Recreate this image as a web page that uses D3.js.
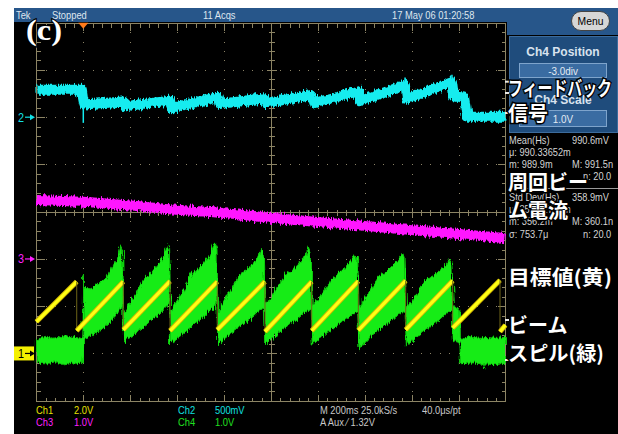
<!DOCTYPE html>
<html>
<head>
<meta charset="utf-8">
<script src="https://cdnjs.cloudflare.com/ajax/libs/d3/7.8.5/d3.min.js"></script>
<style>
  html, body { margin: 0; padding: 0; background: #fff; }
  svg { display: block; }
</style>
</head>
<body>
<svg id="scope" width="618" height="434"></svg>
<script>
// 横軸は div (200ms/div, 0..10), 縦軸は画面上の div (-4..4)

// Ch2 フィードバック信号 (シアン)
const ch2T = [0, 0.97, 0.995, 1.02, 1.85, 1.88, 2.85, 2.88, 3.87, 3.90, 4.87, 4.90, 5.87, 5.90, 6.86, 6.89, 7.86, 7.90, 8.86, 8.90, 9.12, 9.18, 10]
const ch2V = [2.58, 2.58, 2.40, 2.27, 2.33, 2.23, 2.35, 2.19, 2.43, 2.28, 2.40, 2.30, 2.47, 2.29, 2.55, 2.34, 2.68, 2.39, 2.74, 2.44, 2.42, 2.01, 2.01]
// 細いスパイク [t, from, to]
const ch2Spikes = [[1.0, 2.45, 1.88], [7.86, 2.66, 2.84], [8.86, 2.72, 2.90]]

// Ch3 周回ビーム電流 (マゼンタ)
const ch3T = [0, 1, 2, 3, 4, 5, 6, 7, 8, 9, 10]
const ch3V = [0.25, 0.21, 0.13, 0.04, -0.03, -0.13, -0.22, -0.30, -0.39, -0.47, -0.56]

// Ch1 目標値 (黄)
const ch1T = [0, 0.86, 0.86, 1.853, 1.853, 2.849, 2.849, 3.857, 3.857, 4.874, 4.874, 5.870, 5.870, 6.864, 6.864, 7.874, 7.874, 8.876, 8.876, 9.885, 9.885, 10]
const ch1V = [-2.33, -1.48, -2.52, -1.48, -2.50, -1.47, -2.52, -1.48, -2.50, -1.48, -2.54, -1.48, -2.52, -1.47, -2.51, -1.46, -2.50, -1.46, -2.46, -1.45, -2.54, -2.40]

// Ch4 ビームスピル (緑) 帯の上端・下端
const ch4T = [0, 0.2, 0.4, 0.6, 0.8, 0.99,
  1.01, 1.04, 1.20, 1.35, 1.50, 1.65, 1.75, 1.80, 1.84,
  1.86, 2.00, 2.15, 2.30, 2.45, 2.60, 2.72, 2.79, 2.84,
  2.86, 3.00, 3.15, 3.30, 3.45, 3.60, 3.72, 3.80, 3.85,
  3.87, 4.00, 4.15, 4.30, 4.45, 4.60, 4.72, 4.80, 4.86,
  4.89, 5.00, 5.15, 5.30, 5.45, 5.60, 5.72, 5.80, 5.86,
  5.88, 6.00, 6.15, 6.30, 6.45, 6.60, 6.72, 6.80, 6.85,
  6.88, 7.00, 7.15, 7.30, 7.45, 7.60, 7.72, 7.81, 7.86,
  7.89, 8.00, 8.15, 8.30, 8.45, 8.60, 8.72, 8.80, 8.86,
  8.89, 9.00, 9.03,
  9.04, 9.30, 9.50, 9.53, 9.56, 9.80, 10]
const ch4Hi = [-2.70, -2.66, -2.68, -2.62, -2.66, -2.68,
  -1.34, -1.60, -1.62, -1.50, -1.40, -1.10, -0.95, -0.72, -0.82,
  -2.19, -1.92, -1.70, -1.40, -1.30, -1.10, -0.95, -0.68, -0.80,
  -2.14, -1.88, -1.62, -1.30, -1.22, -1.05, -0.88, -0.66, -0.78,
  -2.12, -1.90, -1.66, -1.38, -1.25, -1.12, -0.98, -0.78, -0.95,
  -1.93, -1.85, -1.60, -1.35, -1.25, -1.10, -0.95, -0.75, -0.90,
  -1.98, -1.86, -1.64, -1.42, -1.32, -1.16, -1.02, -0.92, -0.98,
  -2.02, -1.84, -1.60, -1.38, -1.28, -1.14, -1.00, -0.86, -0.98,
  -2.04, -1.90, -1.68, -1.45, -1.36, -1.24, -1.15, -1.00, -1.12,
  -1.98, -2.05, -2.10,
  -2.68, -2.64, -2.66, -2.66, -2.66, -2.68, -2.66]
const ch4Lo = [-3.20, -3.22, -3.18, -3.24, -3.20, -3.22,
  -2.72, -2.66, -2.60, -2.52, -2.40, -2.25, -2.12, -2.04, -1.98,
  -2.76, -2.66, -2.55, -2.42, -2.30, -2.18, -2.05, -1.98, -1.91,
  -2.78, -2.68, -2.56, -2.44, -2.32, -2.20, -2.06, -1.98, -1.92,
  -2.82, -2.70, -2.58, -2.46, -2.34, -2.24, -2.14, -2.10, -2.06,
  -2.80, -2.70, -2.58, -2.45, -2.35, -2.24, -2.14, -2.10, -2.06,
  -2.82, -2.72, -2.60, -2.48, -2.38, -2.28, -2.18, -2.14, -2.10,
  -2.93, -2.78, -2.62, -2.50, -2.38, -2.28, -2.18, -2.14, -2.10,
  -2.86, -2.76, -2.62, -2.50, -2.40, -2.28, -2.16, -2.10, -2.04,
  -2.72, -2.76, -2.75,
  -3.22, -3.20, -3.22, -3.35, -3.22, -3.24, -3.20]

// 画面の文字
const headerTexts = [["Tek", 16], ["Stopped", 52], ["11 Acqs", 203], ["17 May 06 01:20:58", 392]]
const statsRows = [
  ["Mean(Hs)", "990.6mV", 144],
  ["μ: 990.33652m", "", 156],
  ["m: 989.9m", "M: 991.5n", 168],
  ["", "n: 20.0", 180],
  ["Std Dev(Hs)", "358.9mV", 201],
  ["μ: 358.52706m", "", 213],
  ["m: 356.2m", "M: 360.1n", 225],
  ["σ: 753.7μ", "n: 20.0", 238]
]
const bottomRow1 = [["Ch1", 36, "#e8e000"], ["2.0V", 74, "#e8e000"], ["Ch2", 178, "#10e0e0"], ["500mV", 215, "#10e0e0"], ["M 200ms 25.0kS/s", 320, "#c8c8c8"], ["40.0μs/pt", 422, "#c8c8c8"]]
const bottomRow2 = [["Ch3", 36, "#ff20ff"], ["1.0V", 74, "#ff20ff"], ["Ch4", 178, "#20e020"], ["1.0V", 215, "#20e020"], ["A  Aux  ⁄  1.32V", 320, "#c8c8c8"]]
const jpLabels = [["フィードバック", 96, 104], ["信号", 121, 0], ["周回ビー", 190, 0], ["ム電流", 218, 0], ["目標値(黄)", 285, 104], ["ビーム", 333, 0], ["スピル(緑)", 361, 96]]

const W = 618, H = 434
const svg = d3.select("#scope")
const sans = "'Liberation Sans', Arial, sans-serif"

// 幅の狭い画面フォントの代わりに横方向を縮めた文字
function narrowText(parent, str, tx, ty, size, fill, sx, anchor) {
  return parent.append("text")
    .attr("transform", `translate(${tx},${ty}) scale(${sx},1)`)
    .attr("text-anchor", anchor || "start")
    .attr("font-family", sans).attr("font-size", size).attr("fill", fill)
    .text(str)
}

const defs = svg.append("defs")
const flt = defs.append("filter").attr("id", "noise")
  .attr("filterUnits", "userSpaceOnUse").attr("x", 0).attr("y", 0).attr("width", W).attr("height", H)
flt.append("feTurbulence").attr("type", "fractalNoise").attr("baseFrequency", "0.7 0.06")
  .attr("numOctaves", 2).attr("seed", 4).attr("result", "t")
flt.append("feDisplacementMap").attr("in", "SourceGraphic").attr("in2", "t")
  .attr("scale", 7).attr("xChannelSelector", "R").attr("yChannelSelector", "G")

// 背景
svg.append("rect").attr("width", W).attr("height", H).attr("fill", "#fff")
svg.append("rect").attr("x", 14).attr("y", 8).attr("width", W - 14).attr("height", H - 8).attr("fill", "#000")

// ヘッダ
svg.append("rect").attr("x", 14).attr("y", 8).attr("width", W - 14).attr("height", 14).attr("fill", "#27568a")
svg.append("rect").attr("x", 507).attr("y", 8).attr("width", W - 507).attr("height", 27).attr("fill", "#27568a")
headerTexts.forEach(d => narrowText(svg, d[0], d[1], 19, 11, "#dfe6ee", 0.85))

// Menu ボタン
svg.append("rect").attr("x", 571.5).attr("y", 11.5).attr("width", 38).attr("height", 19).attr("rx", 9.5)
  .attr("fill", "#d6d6d6").attr("stroke", "#444").attr("stroke-width", 1)
narrowText(svg, "Menu", 590.5, 25, 11.5, "#000", 0.9, "middle")

// 右パネル
svg.append("rect").attr("x", 509.5).attr("y", 36.5).attr("width", 108).attr("height", 96)
  .attr("fill", "#1f4c7c").attr("stroke", "#3d6c9c")
svg.append("text").attr("x", 563).attr("y", 56).attr("text-anchor", "middle").text("Ch4 Position")
  .attr("fill", "#d8e2ee").attr("font-family", sans).attr("font-weight", "bold").attr("font-size", 12)
svg.append("rect").attr("x", 519.5).attr("y", 63.5).attr("width", 87).attr("height", 14)
  .attr("fill", "#3a6ca2").attr("stroke", "#7ea4cc")
narrowText(svg, "-3.0div", 563, 74.5, 11, "#e2eaf2", 0.9, "middle")
svg.append("text").attr("x", 563).attr("y", 104).attr("text-anchor", "middle").text("Ch4 Scale")
  .attr("fill", "#d8e2ee").attr("font-family", sans).attr("font-weight", "bold").attr("font-size", 12)
svg.append("rect").attr("x", 519.5).attr("y", 110.5).attr("width", 87).attr("height", 16)
  .attr("fill", "#3a6ca2").attr("stroke", "#7ea4cc")
narrowText(svg, "1.0V", 563, 122.5, 11, "#e2eaf2", 0.9, "middle")

// 統計値
const stats = svg.append("g")
statsRows.forEach(r => {
  narrowText(stats, r[0], 509, r[2], 10.5, "#d4d4d4", 0.88)
  narrowText(stats, r[1], r[1].startsWith("n:") ? 583 : 572, r[2], 10.5, "#d4d4d4", 0.88)
})
svg.append("line").attr("x1", 508).attr("x2", W).attr("y1", 188.5).attr("y2", 188.5)
  .attr("stroke", "#9a9a9a")

// 目盛り
const x = d3.scaleLinear().domain([0, 10]).range([36.4, 505.4])
const y = d3.scaleLinear().domain([-4, 4]).range([400.7, 22.7])
const px = v => Math.round(x(v)) + 0.5
const py = v => Math.round(y(v)) + 0.5
const gridColor = "#8c8464"
const minorX = d3.range(0, 10.001, 0.2)
const minorY = d3.range(-4, 4.001, 0.2)
const isMajor = v => Math.abs(v - Math.round(v)) < 1e-6

const grid = svg.append("g").attr("stroke", gridColor).attr("shape-rendering", "crispEdges")
grid.append("rect").attr("x", px(0)).attr("y", py(4))
  .attr("width", px(10) - px(0)).attr("height", py(-4) - py(4)).attr("fill", "none")
grid.append("line").attr("x1", px(5)).attr("x2", px(5)).attr("y1", py(4)).attr("y2", py(-4))
grid.append("line").attr("x1", px(0)).attr("x2", px(10)).attr("y1", py(0)).attr("y2", py(0))

const dots = svg.append("g").attr("fill", "#8a8266")
d3.range(1, 10).filter(i => i !== 5).forEach(i => {
  minorY.forEach(v => dots.append("rect").attr("x", Math.round(x(i))).attr("y", Math.round(y(v))).attr("width", 1).attr("height", 1))
})
d3.range(-3, 4).filter(j => j !== 0).forEach(j => {
  minorX.forEach(u => dots.append("rect").attr("x", Math.round(x(u))).attr("y", Math.round(y(j))).attr("width", 1).attr("height", 1))
})

minorX.forEach(u => {
  const len = isMajor(u) ? 7 : 4
  grid.append("line").attr("x1", px(u)).attr("x2", px(u)).attr("y1", py(4)).attr("y2", py(4) + len)
  grid.append("line").attr("x1", px(u)).attr("x2", px(u)).attr("y1", py(-4)).attr("y2", py(-4) - len)
  const c = isMajor(u) ? 5 : 3
  grid.append("line").attr("x1", px(u)).attr("x2", px(u)).attr("y1", py(0) - c).attr("y2", py(0) + c)
})
minorY.forEach(v => {
  const len = isMajor(v) ? 8 : 4
  grid.append("line").attr("x1", px(0)).attr("x2", px(0) + len).attr("y1", py(v)).attr("y2", py(v))
  grid.append("line").attr("x1", px(10)).attr("x2", px(10) - len).attr("y1", py(v)).attr("y2", py(v))
  const c = isMajor(v) ? 5 : 3
  grid.append("line").attr("x1", px(5) - c).attr("x2", px(5) + c).attr("y1", py(v)).attr("y2", py(v))
})

// トリガ位置
svg.append("path").attr("d", `M${x(1) - 5},${y(4)} L${x(1) + 5},${y(4)} L${x(1)},${y(4) + 6} Z`)
  .attr("fill", "#ff7a1a")

// 波形
const line = d3.line().x(d => x(d[0])).y(d => y(d[1]))
const traces = svg.append("g")

traces.append("path").datum(d3.zip(ch2T, ch2V)).attr("d", line)
  .attr("fill", "none").attr("stroke", "#12ecef").attr("stroke-width", 10)
  .attr("stroke-linejoin", "round").attr("filter", "url(#noise)")
traces.selectAll(".spk").data(ch2Spikes).enter().append("line")
  .attr("x1", d => x(d[0])).attr("x2", d => x(d[0])).attr("y1", d => y(d[1])).attr("y2", d => y(d[2]))
  .attr("stroke", "#12ecef").attr("stroke-width", 1.5)

traces.append("path").datum(d3.zip(ch3T, ch3V)).attr("d", d3.line().curve(d3.curveMonotoneX).x(d => x(d[0])).y(d => y(d[1])))
  .attr("fill", "none").attr("stroke", "#ff14ff").attr("stroke-width", 10)
  .attr("filter", "url(#noise)")

const area = d3.area().x(d => x(d[0])).y0(d => y(d[2])).y1(d => y(d[1]))
traces.append("path").datum(d3.zip(ch4T, ch4Hi, ch4Lo)).attr("d", area)
  .attr("fill", "#14ec14").attr("stroke", "#0fcc0f").attr("stroke-width", 1)
  .attr("filter", "url(#noise)")

const ch1 = d3.zip(ch1T, ch1V)
const ch1g = traces.append("g")
d3.range(ch1.length - 1).forEach(i => {
  const a = ch1[i], b = ch1[i + 1]
  const seg = [a, b]
  if (b[0] > a[0]) {
    ch1g.append("path").datum(seg).attr("d", line).attr("stroke", "#d2b800").attr("stroke-width", 5).attr("fill", "none")
    ch1g.append("path").datum(seg).attr("d", line).attr("stroke", "#ffff14").attr("stroke-width", 3.2).attr("fill", "none")
  } else {
    ch1g.append("path").datum(seg).attr("d", line).attr("stroke", "#6e6418").attr("stroke-width", 1).attr("fill", "none")
  }
})

// 右端の小さなマーカー
const marks = [81.7, 93, 113, 320, 360]
svg.selectAll(".rm").data(marks).enter().append("rect")
  .attr("x", 505).attr("y", d => d - 1).attr("width", 4).attr("height", 2).attr("fill", "#e8e8e8")

// チャンネル基準マーカー
function marker(level, label, color, boxed) {
  const yy = y(level)
  if (boxed) {
    svg.append("rect").attr("x", 14).attr("y", yy - 7).attr("width", 20).attr("height", 14).attr("fill", "#f4f000")
  }
  const c = boxed ? "#000" : color
  narrowText(svg, label, 18, yy + 4.5, 12, c, 0.9)
  svg.append("line").attr("x1", 25).attr("x2", 32).attr("y1", yy).attr("y2", yy).attr("stroke", c).attr("stroke-width", 1.2)
  svg.append("path").attr("d", `M30,${yy - 3} L35,${yy} L30,${yy + 3} Z`).attr("fill", c)
}
marker(2, "2", "#12e0e6", false)
marker(-1, "3", "#ff20ff", false)
marker(-3, "1", "#f4f000", true)

// 下部の設定表示
const bottom = svg.append("g")
bottomRow1.forEach(d => narrowText(bottom, d[0], d[1], 414, 11, d[2], 0.85))
bottomRow2.forEach(d => narrowText(bottom, d[0], d[1], 426, 11, d[2], 0.85))

// 注記 (c)
svg.append("text").attr("x", 26).attr("y", 40).text("(c)")
  .attr("font-family", "'Liberation Serif', 'Times New Roman', serif").attr("font-weight", "bold")
  .attr("font-size", 30).attr("textLength", 36).attr("lengthAdjust", "spacingAndGlyphs")
  .attr("fill", "#fff").attr("stroke", "#000").attr("stroke-width", 2).attr("paint-order", "stroke")

// 日本語ラベル
jpLabels.forEach(d => {
  const t = svg.append("text").attr("x", 508).attr("y", d[1]).text(d[0])
    .attr("font-family", "'Noto Sans CJK JP', sans-serif").attr("font-weight", "bold").attr("font-size", 20)
    .attr("fill", "#fff").attr("stroke", "#000").attr("stroke-width", 3).attr("paint-order", "stroke")
  if (d[2]) t.attr("textLength", d[2]).attr("lengthAdjust", "spacingAndGlyphs")
})
</script>
</body>
</html>
